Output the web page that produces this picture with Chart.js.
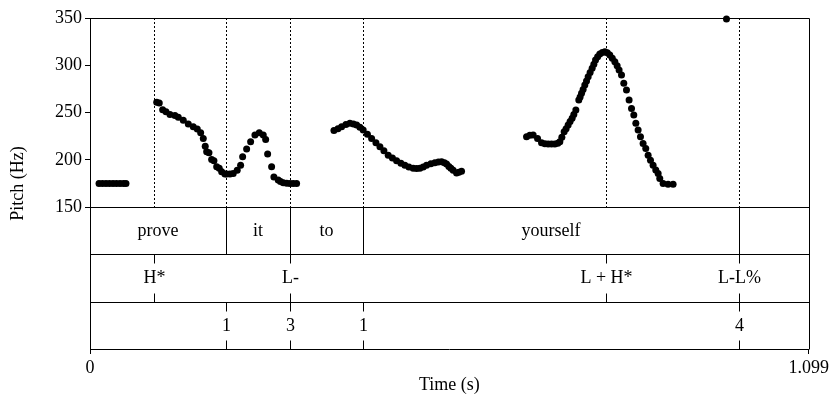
<!DOCTYPE html>
<html>
<head>
<meta charset="utf-8">
<script src="https://cdn.jsdelivr.net/npm/chart.js@4/dist/chart.umd.min.js"></script>
<style>
  html, body { margin: 0; padding: 0; background: #fff; }
  #wrap { width: 832px; height: 402px; }
</style>
</head>
<body>
<div id="wrap"><canvas id="pitchChart" width="832" height="402"></canvas></div>
<script>
"use strict";

const X_MAX = 1.099;
const xTicks = [0, 1.099];
const yTicks = [150, 200, 250, 300, 350];

// pitch track (time in s, F0 in Hz)
const pitchTimes = [
  0.0138, 0.0191, 0.0245, 0.0298, 0.0352, 0.0405, 0.0459, 0.0512, 0.0550,
  0.1020, 0.1059, 0.1111, 0.1162, 0.1223, 0.1299, 0.1350, 0.1426, 0.1503, 0.1579,
  0.1640, 0.1692, 0.1732, 0.1762, 0.1784, 0.1819, 0.1860, 0.1895, 0.1937, 0.1976,
  0.2013, 0.2063, 0.2089, 0.2140, 0.2190, 0.2251, 0.2303, 0.2334, 0.2395, 0.2456,
  0.2522, 0.2588, 0.2649, 0.2686, 0.2716, 0.2777, 0.2812, 0.2878, 0.2912, 0.2955,
  0.3007, 0.3057, 0.3107, 0.3159,
  0.3730, 0.3791, 0.3847, 0.3913, 0.3974, 0.4028, 0.4077, 0.4127, 0.4177, 0.4242,
  0.4306, 0.4372, 0.4433, 0.4494, 0.4560, 0.4624, 0.4688, 0.4754, 0.4815, 0.4876,
  0.4942, 0.4994, 0.5044, 0.5095, 0.5146, 0.5212, 0.5273, 0.5327, 0.5376, 0.5419,
  0.5452, 0.5487, 0.5518, 0.5553, 0.5605, 0.5640, 0.5681,
  0.6675, 0.6725, 0.6776, 0.6843, 0.6904, 0.6955, 0.7005, 0.7057, 0.7108, 0.7153,
  0.7184, 0.7215, 0.7250, 0.7280, 0.7311, 0.7341, 0.7372, 0.7398, 0.7429, 0.7474,
  0.7494, 0.7516, 0.7540, 0.7566, 0.7592, 0.7617, 0.7647, 0.7678, 0.7704, 0.7730,
  0.7762, 0.7795, 0.7834, 0.7872, 0.7910, 0.7948, 0.7986, 0.8025, 0.8060, 0.8090,
  0.8127, 0.8162, 0.8203, 0.8243, 0.8280, 0.8315, 0.8346, 0.8381, 0.8417, 0.8457,
  0.8498, 0.8534, 0.8570, 0.8610, 0.8651, 0.8687, 0.8712, 0.8763, 0.8839, 0.8916,
  0.9732
];
const pitchHz = [
  175, 175, 175, 175, 175, 175, 175, 175, 175,
  261, 260, 253, 251, 248, 247, 245, 242, 238, 235,
  232.5, 228.6, 222.7, 214.5, 208.5, 207.5, 200.5, 199, 192.7, 191,
  187.4, 185, 185, 185, 185.6, 189, 194.4, 203.2, 211.4, 219.1,
  226.2, 228.6, 226.2, 221.6, 206.1, 192.7, 182, 178.6, 177, 175.7,
  175.3, 175, 175, 175,
  231, 233, 235, 237.5, 238.6, 238, 236.8, 234.5, 231.5, 227,
  222.7, 218, 213.8, 209.5, 205, 202, 199, 196.5, 194.4, 192.5,
  191, 190.8, 191, 192.5, 194.4, 196, 196.9, 197.8, 198, 197,
  195.5, 193, 191, 189, 186, 187, 188,
  224.4, 226, 226.2, 222.7, 218, 217, 216.7, 216.7, 216.7, 217.5,
  219.1, 224, 229.7, 233, 236.8, 240.5, 243.9, 248, 252.6, 263.2,
  266.5, 270.3, 274.5, 279.1, 283.5, 287.9, 292.5, 296.8, 301, 305.6,
  309, 311.9, 313.5, 314.3, 313.3, 310.8, 307.5, 303.8, 299.5, 295,
  289.7, 280.9, 273.8, 263.2, 254.4, 247.4, 238.6, 231.5, 224.4, 217.4,
  212.1, 205, 199.7, 194.4, 189.2, 185.7, 180.4, 175, 174.3, 174.3,
  349
];

// word tier: interval edges and labels
const wordEdges = [0, 0.208, 0.306, 0.417, 0.993, 1.099];
const wordLabels = ["prove", "it", "to", "yourself", ""];

// tone tier (points)
const toneTimes = [0.098, 0.306, 0.789, 0.993];
const toneLabels = ["H*", "L-", "L + H*", "L-L%"];

// break index tier (points)
const breakTimes = [0.208, 0.306, 0.417, 0.993];
const breakLabels = ["1", "3", "1", "4"];

const FONT_FAMILY = "'Liberation Serif', 'Times New Roman', serif";
const FONT_SIZE = 18;
const TIER_TICK = 9;

function crisp(px) {
  return Math.round(px) + 0.5;
}

function vline(ctx, x, y1, y2) {
  ctx.beginPath();
  ctx.moveTo(x, y1);
  ctx.lineTo(x, y2);
  ctx.stroke();
}

function hline(ctx, x1, x2, y) {
  ctx.beginPath();
  ctx.moveTo(x1, y);
  ctx.lineTo(x2, y);
  ctx.stroke();
}

function drawPointTier(ctx, x, top, bottom, times, labels) {
  times.forEach((t, i) => {
    const px = crisp(x.getPixelForValue(t));
    vline(ctx, px, top, top + TIER_TICK);
    vline(ctx, px, bottom - TIER_TICK, bottom);
    ctx.fillText(labels[i], px, (top + bottom) / 2);
  });
}

const textGridPlugin = {
  id: "textGrid",
  beforeDatasetsDraw(chart) {
    const {ctx, scales: {x, y}} = chart;
    const top = y.getPixelForValue(350);
    const bottom = y.getPixelForValue(150);
    const marks = [...new Set([...wordEdges.slice(1, -1), ...toneTimes, ...breakTimes])];

    ctx.save();
    ctx.strokeStyle = "#000";
    ctx.lineWidth = 1;
    ctx.setLineDash([2, 2]);
    marks.forEach(t => vline(ctx, crisp(x.getPixelForValue(t)), top, bottom));
    ctx.restore();
  },
  afterDraw(chart) {
    const {ctx, chartArea: area, scales: {x, y}} = chart;
    const y150 = crisp(y.getPixelForValue(150));
    const y100 = crisp(y.getPixelForValue(100));
    const y50 = crisp(y.getPixelForValue(50));
    const y0 = crisp(y.getPixelForValue(0));
    const left = crisp(area.left);
    const right = crisp(area.right);

    ctx.save();
    ctx.strokeStyle = "#000";
    ctx.fillStyle = "#000";
    ctx.lineWidth = 1;

    // outer box and tier separators
    hline(ctx, left, right, crisp(area.top));
    vline(ctx, right, crisp(area.top), y0);
    [y150, y100, y50].forEach(yy => hline(ctx, left, right, yy));

    ctx.font = FONT_SIZE + "px " + FONT_FAMILY;
    ctx.textAlign = "center";
    ctx.textBaseline = "middle";

    // word tier
    wordEdges.slice(1, -1).forEach(t => vline(ctx, crisp(x.getPixelForValue(t)), y150, y100));
    wordLabels.forEach((w, i) => {
      const mid = (x.getPixelForValue(wordEdges[i]) + x.getPixelForValue(wordEdges[i + 1])) / 2;
      ctx.fillText(w, mid, (y150 + y100) / 2);
    });

    drawPointTier(ctx, x, y100, y50, toneTimes, toneLabels);
    drawPointTier(ctx, x, y50, y0, breakTimes, breakLabels);
    ctx.restore();
  }
};

Chart.defaults.color = "#000";
Chart.defaults.font.family = FONT_FAMILY;
Chart.defaults.font.size = FONT_SIZE;

new Chart(document.getElementById("pitchChart"), {
  type: "scatter",
  data: {
    datasets: [{
      label: "F0",
      data: pitchTimes.map((t, i) => ({x: t, y: pitchHz[i]})),
      pointRadius: 3.5,
      pointHoverRadius: 3.5,
      pointBorderWidth: 0,
      backgroundColor: "#000",
      borderColor: "#000",
      showLine: false,
      clip: false
    }]
  },
  options: {
    responsive: false,
    animation: false,
    events: [],
    layout: {
      padding: {top: 18, right: 23, bottom: 0, left: 0}
    },
    scales: {
      x: {
        type: "linear",
        min: 0,
        max: X_MAX,
        afterBuildTicks: scale => { scale.ticks = xTicks.map(v => ({value: v})); },
        afterFit: scale => { scale.height = 53; },
        ticks: {
          padding: 3,
          maxRotation: 0,
          callback: v => (v === 0 ? "0" : v.toFixed(3))
        },
        grid: {
          drawOnChartArea: false,
          drawTicks: true,
          tickLength: 5,
          color: "#000"
        },
        border: {display: true, color: "#000", width: 1},
        title: {
          display: true,
          text: "Time (s)",
          padding: {top: 0, bottom: 6}
        }
      },
      y: {
        type: "linear",
        min: 0,
        max: 350,
        afterBuildTicks: scale => { scale.ticks = yTicks.map(v => ({value: v})); },
        afterFit: scale => { scale.width = 90; },
        ticks: {padding: 3},
        grid: {
          drawOnChartArea: false,
          drawTicks: true,
          tickLength: 5,
          color: "#000"
        },
        border: {display: true, color: "#000", width: 1},
        title: {
          display: true,
          text: "Pitch (Hz)",
          padding: {top: 7, bottom: 0}
        }
      }
    },
    plugins: {
      legend: {display: false},
      tooltip: {enabled: false}
    }
  },
  plugins: [textGridPlugin]
});
</script>
</body>
</html>
